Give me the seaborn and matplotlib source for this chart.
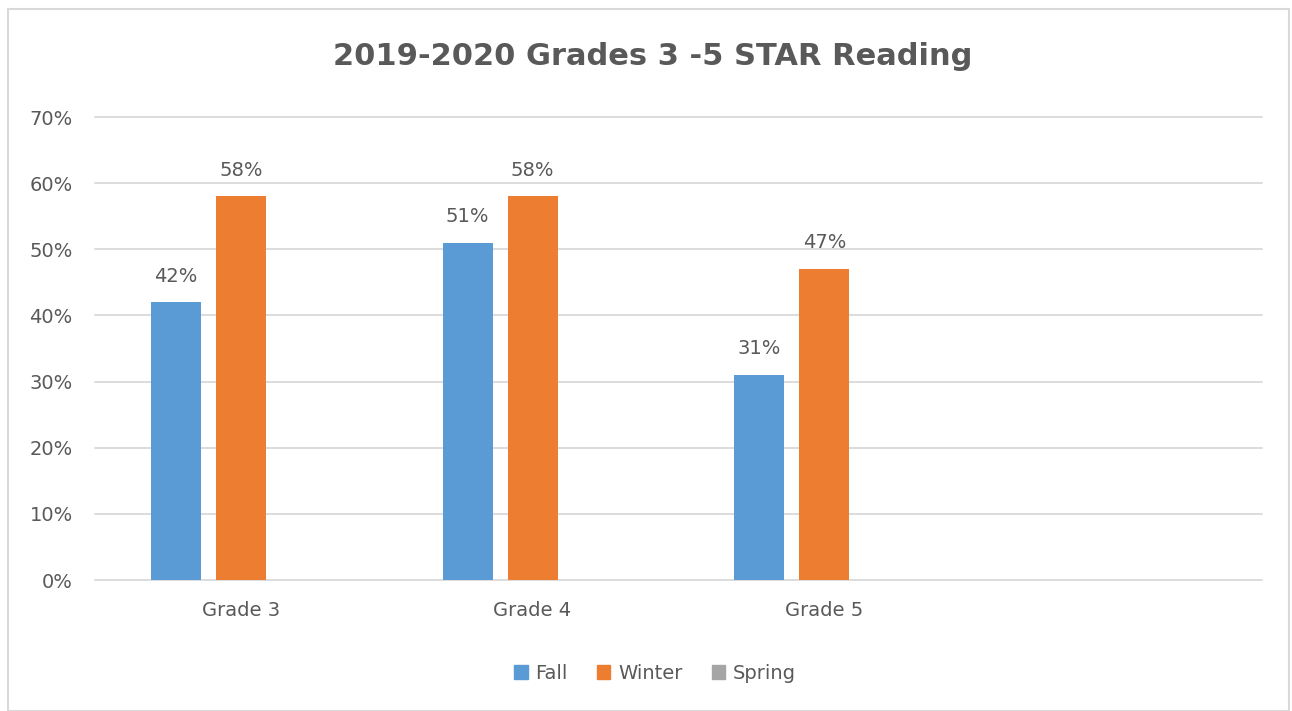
import matplotlib
matplotlib.use("Agg")
import matplotlib.pyplot as plt
import matplotlib.patches as mpatches
import seaborn as sns
import pandas as pd

# chart data
grades = ["Grade 3", "Grade 4", "Grade 5", ""]
seasons = ["Fall", "Winter", "Spring"]
fall = [0.42, 0.51, 0.31]
winter = [0.58, 0.58, 0.47]
colors = ["#5B9BD5", "#ED7D31", "#A5A5A5"]
y_ticks = [0, 0.1, 0.2, 0.3, 0.4, 0.5, 0.6, 0.7]

rows = []
for g, f, w in zip(grades, fall, winter):
    rows.append({"grade": g, "season": "Fall", "value": f})
    rows.append({"grade": g, "season": "Winter", "value": w})
df = pd.DataFrame(rows)

sns.set_theme(style="white")
plt.rcParams["font.family"] = ["DejaVu Sans"]
text_color = "#595959"

fig = plt.figure(figsize=(12.92, 7.11), dpi=100)
ax = fig.add_axes([0.0735, 0.1842, 0.9032, 0.6512])

sns.barplot(data=df, x="grade", y="value", hue="season",
            order=grades, hue_order=seasons, palette=colors,
            width=0.668, gap=0.23, saturation=1, errorbar=None,
            linewidth=0, legend=False, ax=ax)

ax.set_ylim(0, 0.7)
ax.set_yticks(y_ticks)
ax.set_yticklabels([f"{int(round(t * 100))}%" for t in y_ticks])
ax.set_xlim(-0.5, len(grades) - 0.5)
ax.grid(axis="y", color="#D9D9D9", linewidth=1.3)
for line in ax.get_ygridlines():
    line.set_clip_on(False)
ax.set_axisbelow(True)
for s in ax.spines.values():
    s.set_visible(False)
ax.tick_params(axis="both", length=0, labelsize=14, labelcolor=text_color)
ax.tick_params(axis="y", pad=16)
ax.tick_params(axis="x", pad=15)
ax.set_xlabel("")
ax.set_ylabel("")

# value labels
for cont in ax.containers:
    ax.bar_label(cont, labels=[f"{v * 100:.0f}%" for v in cont.datavalues],
                 padding=12, fontsize=14, color=text_color)

fig.suptitle("2019-2020 Grades 3 -5 STAR Reading", x=0.505, y=0.92, va="center",
             fontsize=22, fontweight="bold", color=text_color)

handles = [mpatches.Patch(color=c, label=s) for s, c in zip(seasons, colors)]
fig.legend(handles=handles, loc="center", bbox_to_anchor=(0.507, 0.053), ncol=3,
           frameon=False, fontsize=14, labelcolor=text_color,
           handlelength=0.7, handleheight=0.7, handletextpad=0.4, columnspacing=1.5)

# chart border
fig.patches.append(mpatches.Rectangle((0.006, 0.0), 0.992, 0.988, transform=fig.transFigure,
                                      fill=False, edgecolor="#D9D9D9", linewidth=1.5))

fig.savefig("out.png", dpi=100)
